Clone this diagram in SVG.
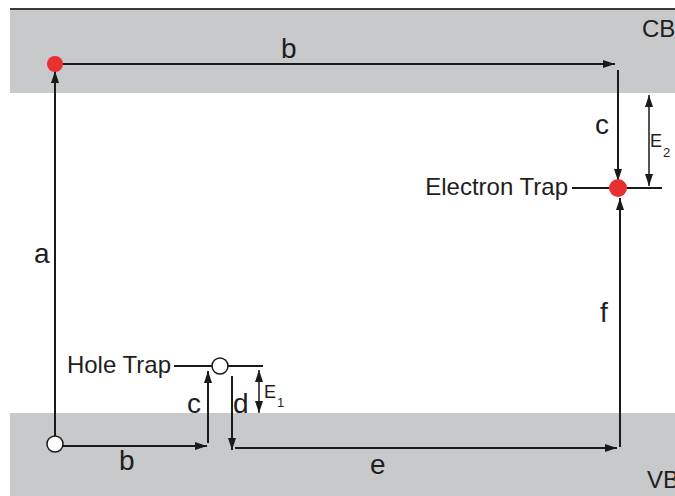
<svg xmlns="http://www.w3.org/2000/svg" width="675" height="496" viewBox="0 0 675 496">
<style>
.band{fill:#c8c9cb}
.ln{stroke:#1a1a1a;stroke-width:2;fill:none}
.t{font-family:"Liberation Sans",Arial,sans-serif;fill:#1e1e1e}
.lbl{font-size:28px}
.tr{font-size:24px}
.band-lbl{font-size:24px}
.e{font-size:18px}
.sub{font-size:13px}
</style>
<defs>
<marker id="ah" viewBox="0 0 12 8" refX="12" refY="4" markerWidth="12" markerHeight="8" markerUnits="userSpaceOnUse" orient="auto-start-reverse">
<path d="M0,0 L12,4 L0,8 Z" fill="#1a1a1a"/>
</marker>
</defs>
<rect width="675" height="496" fill="#fff"/>
<g id="bands">
<rect class="band" x="10" y="9" width="665" height="84"/>
<line x1="10" y1="9" x2="675" y2="9" stroke="#3a3a3a" stroke-width="1.8"/>
<rect class="band" x="10" y="413" width="665" height="83"/>
<text class="t band-lbl" x="642" y="37">CB</text>
<text class="t band-lbl" x="647" y="488">VB</text>
</g>
<g id="connectors">
<line class="ln" x1="62" y1="64" x2="615" y2="64" marker-end="url(#ah)"/>
<line class="ln" x1="55" y1="437" x2="55" y2="71" marker-end="url(#ah)"/>
<line class="ln" x1="618" y1="70" x2="618" y2="181" marker-end="url(#ah)"/>
<line class="ln" x1="649" y1="95" x2="649" y2="186" marker-start="url(#ah)" marker-end="url(#ah)" style="stroke-width:1.5"/>
<line class="ln" x1="620" y1="447" x2="620" y2="198" marker-end="url(#ah)"/>
<line class="ln" x1="62" y1="446" x2="207" y2="446" marker-end="url(#ah)"/>
<line class="ln" x1="208" y1="443" x2="208" y2="371" marker-end="url(#ah)"/>
<line class="ln" x1="232" y1="376" x2="232" y2="450" marker-end="url(#ah)"/>
<line class="ln" x1="259" y1="370" x2="259" y2="413" marker-start="url(#ah)" marker-end="url(#ah)" style="stroke-width:1.5"/>
<line class="ln" x1="235" y1="448" x2="617" y2="448" marker-end="url(#ah)"/>
<text class="t lbl" x="281" y="58">b</text>
<text class="t lbl" x="34" y="263">a</text>
<text class="t lbl" x="595" y="134">c</text>
<text class="t e" x="650" y="147">E</text>
<text class="t sub" x="663" y="157">2</text>
<text class="t lbl" x="600" y="322">f</text>
<text class="t lbl" x="119" y="470">b</text>
<text class="t lbl" x="187" y="413">c</text>
<text class="t lbl" x="233" y="413">d</text>
<text class="t e" x="264" y="398">E</text>
<text class="t sub" x="277" y="407">1</text>
<text class="t lbl" x="370" y="474">e</text>
</g>
<g id="electron-trap">
<line class="ln" x1="572" y1="188" x2="662" y2="188"/>
<circle cx="618" cy="188" r="9" fill="#e8302e"/>
<text class="t tr" x="568" y="195" text-anchor="end">Electron Trap</text>
</g>
<g id="hole-trap">
<line class="ln" x1="174" y1="366" x2="263" y2="366"/>
<circle cx="220" cy="366" r="8" fill="#fff" stroke="#1a1a1a" stroke-width="1.5"/>
<text class="t tr" x="171" y="373" text-anchor="end">Hole Trap</text>
</g>
<g id="cb-electron">
<circle cx="55" cy="64" r="8" fill="#e8302e"/>
</g>
<g id="vb-hole">
<circle cx="55" cy="444" r="8" fill="#fff" stroke="#1a1a1a" stroke-width="1.5"/>
</g>
</svg>
